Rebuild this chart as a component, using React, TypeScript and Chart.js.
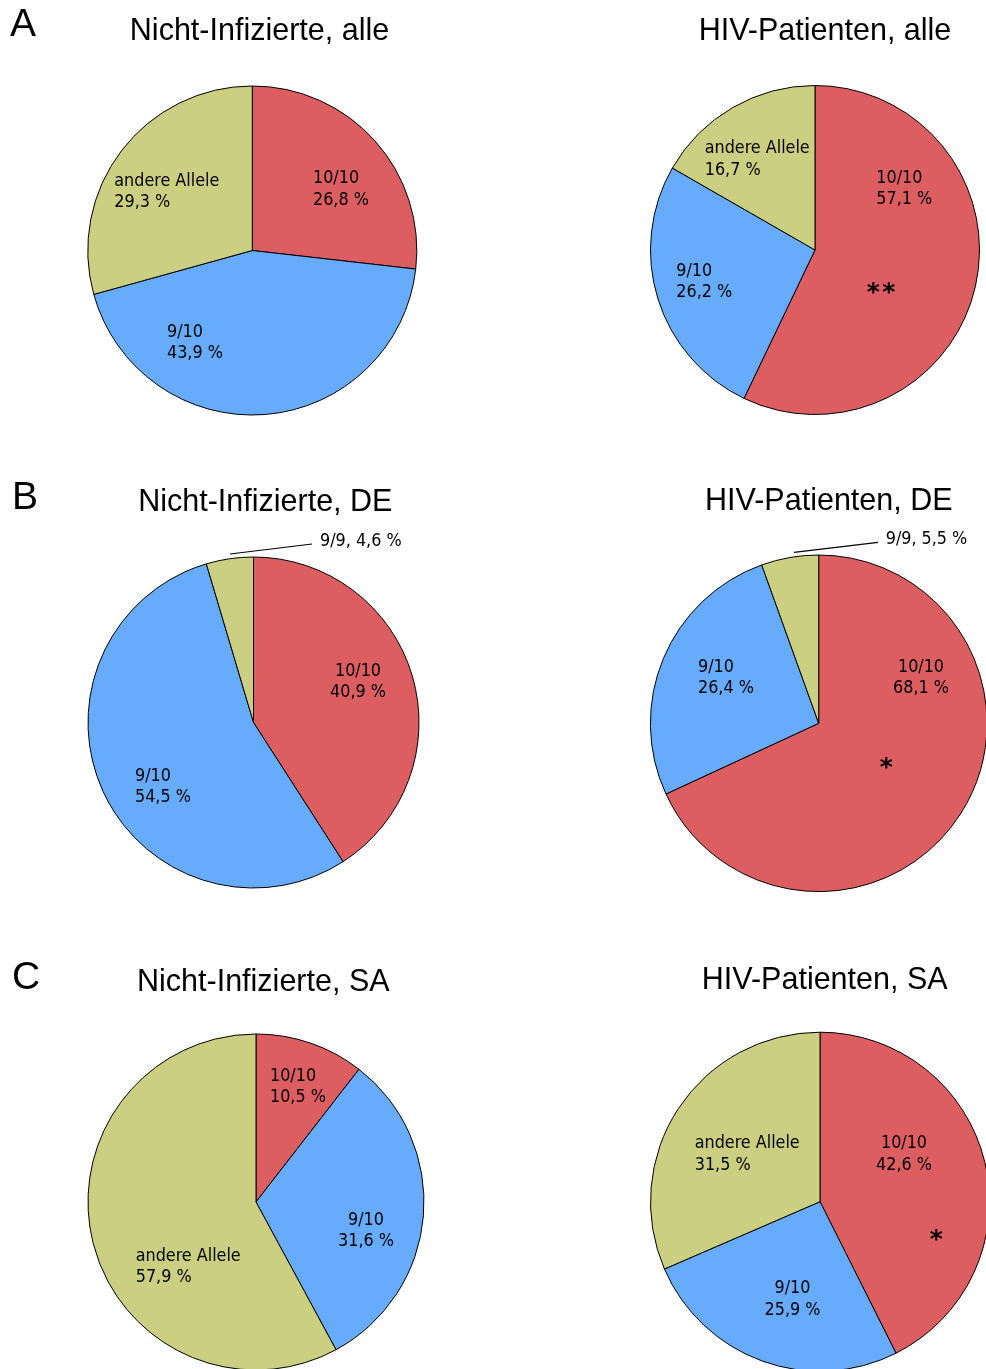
import React, { useEffect, useRef } from 'react';
import { Chart, registerables } from 'chart.js';

Chart.register(...registerables);

// ---------- data ----------
const categoriesAlle = ['10/10', '9/10', 'andere Allele'];
const categoriesDE = ['10/10', '9/10', '9/9'];
const categoriesSA = ['10/10', '9/10', 'andere Allele'];

const nichtInfizierteAlle = [26.8, 43.9, 29.3];
const hivPatientenAlle = [57.1, 26.2, 16.7];
const nichtInfizierteDE = [40.9, 54.5, 4.6];
const hivPatientenDE = [68.1, 26.4, 5.5];
const nichtInfizierteSA = [10.5, 31.6, 57.9];
const hivPatientenSA = [42.6, 25.9, 31.5];

const panelTitles = [
  'Nicht-Infizierte, alle',
  'HIV-Patienten, alle',
  'Nicht-Infizierte, DE',
  'HIV-Patienten, DE',
  'Nicht-Infizierte, SA',
  'HIV-Patienten, SA',
];
const panelLetters = ['A', '', 'B', '', 'C', ''];
const significanceMarks = ['', '**', '', '*', '', '*'];

// ---------- styles / layout ----------
const sliceColors = ['#DC5E60', '#67ABFD', '#CBCF81'];
const TITLE_FONT = '30.5px "Liberation Sans", Arial, Helvetica, sans-serif';
const LETTER_FONT = '39px "Liberation Sans", Arial, Helvetica, sans-serif';
const LABEL_FONT = '17.8px "DejaVu Sans Condensed", "DejaVu Sans", Tahoma, Verdana, sans-serif';
const STAR_FONT = 'bold 25px "DejaVu Sans", Verdana, sans-serif';
const LINE_H = 21.4;

type LabelPos = {
  dx: number;
  dy: number;
  align: 'left' | 'center';
  single?: boolean;
  leader?: [number, number, number, number];
};

type Layout = {
  x0: number; y0: number; w: number; h: number;
  cx: number; cy: number; r: number;
  titleX: number; titleY: number;
  letterX: number; letterY: number;
  labels: LabelPos[];
  stars: [number, number][];
};

const layouts: Layout[] = [
  {
    x0: 0, y0: 0, w: 493, h: 470, cx: 252.3, cy: 250.5, r: 164.5,
    titleX: 259.5, titleY: 40, letterX: 10, letterY: 36,
    labels: [
      { dx: 60.7, dy: -67.2, align: 'left' },
      { dx: -85.3, dy: 86.2, align: 'left' },
      { dx: -138, dy: -64.5, align: 'left' },
    ],
    stars: [],
  },
  {
    x0: 493, y0: 0, w: 493, h: 470, cx: 815, cy: 250, r: 164.5,
    titleX: 825, titleY: 40, letterX: 0, letterY: 0,
    labels: [
      { dx: 61.3, dy: -67.3, align: 'left' },
      { dx: -138.7, dy: 26, align: 'left' },
      { dx: -110.3, dy: -96.7, align: 'left' },
    ],
    stars: [[58.3, 37.5], [73.8, 37.5]],
  },
  {
    x0: 0, y0: 470, w: 493, h: 480, cx: 253.5, cy: 722.5, r: 165.5,
    titleX: 265.3, titleY: 510.5, letterX: 12, letterY: 508.5,
    labels: [
      { dx: 104.5, dy: -46.5, align: 'center' },
      { dx: -118.5, dy: 58.2, align: 'left' },
      { dx: 66.5, dy: -177, align: 'left', single: true, leader: [-23.5, -168.5, 58.5, -178.5] },
    ],
    stars: [],
  },
  {
    x0: 493, y0: 470, w: 493, h: 480, cx: 818.7, cy: 723.3, r: 168.3,
    titleX: 828.8, titleY: 510, letterX: 0, letterY: 0,
    labels: [
      { dx: 102.3, dy: -51.6, align: 'center' },
      { dx: -120.7, dy: -51.6, align: 'left' },
      { dx: 67, dy: -179.3, align: 'left', single: true, leader: [-24.7, -171, 59.3, -181] },
    ],
    stars: [[67.6, 39.4]],
  },
  {
    x0: 0, y0: 950, w: 493, h: 419, cx: 256, cy: 1202, r: 168,
    titleX: 263.3, titleY: 990.5, letterX: 12, letterY: 989,
    labels: [
      { dx: 14, dy: -121.3, align: 'left' },
      { dx: 110, dy: 23, align: 'center' },
      { dx: -120.3, dy: 58.7, align: 'left' },
    ],
    stars: [],
  },
  {
    x0: 493, y0: 950, w: 493, h: 419, cx: 820, cy: 1201.7, r: 169.5,
    titleX: 824.7, titleY: 989, letterX: 0, letterY: 0,
    labels: [
      { dx: 84, dy: -53.4, align: 'center' },
      { dx: -27.5, dy: 91.6, align: 'center' },
      { dx: -125.3, dy: -53.4, align: 'left' },
    ],
    stars: [[116.3, 33.3]],
  },
];

const panelCategories = [categoriesAlle, categoriesAlle, categoriesDE, categoriesDE, categoriesSA, categoriesSA];
const panelValues = [
  nichtInfizierteAlle, hivPatientenAlle,
  nichtInfizierteDE, hivPatientenDE,
  nichtInfizierteSA, hivPatientenSA,
];

const fmtPct = (v: number) => v.toFixed(1).replace('.', ',') + ' %';

function PiePanel({ idx }: { idx: number }) {
  const ref = useRef<HTMLCanvasElement>(null);
  const L = layouts[idx];

  useEffect(() => {
    if (!ref.current) return;
    const categories = panelCategories[idx];
    const values = panelValues[idx];
    const title = panelTitles[idx];
    const letter = panelLetters[idx];
    const mark = significanceMarks[idx];

    const lx = L.cx - L.x0;
    const ly = L.cy - L.y0;
    const half = 40;

    const textPlugin = {
      id: 'pieText' + idx,
      afterDraw(chart: any) {
        const ctx: CanvasRenderingContext2D = chart.ctx;
        const arcs = chart.getDatasetMeta(0).data as any[];
        const cx = arcs[0].x;
        const cy = arcs[0].y;
        ctx.save();
        ctx.fillStyle = '#000';
        ctx.strokeStyle = '#000';
        ctx.textBaseline = 'alphabetic';

        if (letter) {
          ctx.font = LETTER_FONT;
          ctx.textAlign = 'left';
          ctx.fillText(letter, L.letterX - L.x0, L.letterY - L.y0);
        }

        ctx.font = TITLE_FONT;
        ctx.textAlign = 'center';
        ctx.fillText(title, L.titleX - L.x0, L.titleY - L.y0);

        ctx.font = LABEL_FONT;
        values.forEach((v, i) => {
          const p = L.labels[i];
          const lines = p.single
            ? [`${categories[i]}, ${fmtPct(v)}`]
            : [categories[i], fmtPct(v)];
          ctx.textAlign = p.align;
          lines.forEach((t, k) => ctx.fillText(t, cx + p.dx, cy + p.dy + k * LINE_H));
          if (p.leader) {
            ctx.beginPath();
            ctx.lineWidth = 1.2;
            ctx.moveTo(cx + p.leader[0], cy + p.leader[1]);
            ctx.lineTo(cx + p.leader[2], cy + p.leader[3]);
            ctx.stroke();
          }
        });

        if (mark) {
          ctx.font = STAR_FONT;
          ctx.textAlign = 'center';
          const m = ctx.measureText('*');
          const off = (m.actualBoundingBoxDescent - m.actualBoundingBoxAscent) / 2;
          L.stars.forEach(([sx, sy]) => {
            ctx.fillText('*', cx + sx, cy + sy - off);
          });
        }
        ctx.restore();
      },
    };

    const chart = new Chart(ref.current, {
      type: 'pie',
      data: {
        labels: categories,
        datasets: [
          {
            data: values,
            backgroundColor: sliceColors,
            borderColor: '#000000',
            borderWidth: 1,
            radius: L.r,
          } as any,
        ],
      },
      options: {
        responsive: false,
        animation: false,
        events: [],
        layout: {
          padding: {
            left: lx - half,
            right: L.w - lx - half,
            top: ly - half,
            bottom: L.h - ly - half,
          },
        },
        plugins: {
          legend: { display: false },
          tooltip: { enabled: false },
          title: { display: false },
        },
      },
      plugins: [textPlugin],
    });
    return () => chart.destroy();
  }, [idx]);

  return (
    <canvas
      ref={ref}
      width={L.w}
      height={L.h}
      style={{ position: 'absolute', left: L.x0, top: L.y0, width: L.w, height: L.h }}
    />
  );
}

export default function App() {
  return (
    <div
      style={{
        position: 'absolute',
        left: 0,
        top: 0,
        width: 986,
        height: 1369,
        background: '#ffffff',
        overflow: 'hidden',
      }}
    >
      {layouts.map((_, i) => (
        <PiePanel key={i} idx={i} />
      ))}
    </div>
  );
}
